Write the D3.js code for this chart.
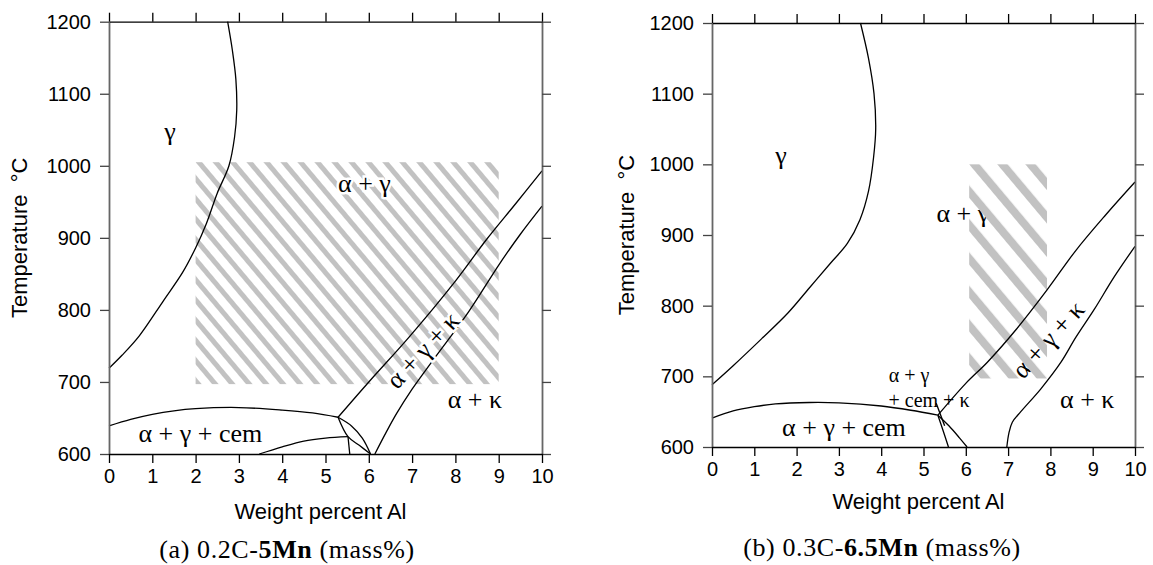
<!DOCTYPE html>
<html><head><meta charset="utf-8">
<script src="https://cdn.jsdelivr.net/npm/d3@7"></script>
<style>
body{margin:0;background:#fff}
svg{display:block}
.tick text{font-family:"Liberation Sans",Arial,sans-serif;font-size:20px;fill:#000}
.ttl{font-family:"Liberation Sans",Arial,sans-serif;font-size:22px;fill:#000;white-space:pre}
.lbl{font-family:"Liberation Serif","Times New Roman",serif;fill:#000}
.cap{font-family:"Liberation Serif","Times New Roman",serif;font-size:26px;letter-spacing:0.6px;fill:#000}
</style></head><body>
<svg id="chart" width="1153" height="565"></svg>
<script>
// ---------- data ----------
const xTicks = [0,1,2,3,4,5,6,7,8,9,10];
const yTicks = [600,700,800,900,1000,1100,1200];
const xTitle = "Weight percent Al";
const yTitle = "Temperature  \u00B0C";

// Panel (a) 0.2C-5Mn : phase boundaries [wt% Al, °C]
const aGammaBoundary = [[0,719],[0.3,737],[0.7,764],[1.26,813],[1.7,852],[2.0,886],[2.25,920],[2.5,962],[2.77,1000],[2.9,1040],[2.95,1077],[2.93,1120],[2.85,1160],[2.74,1200]];
const aCemUpper = [[0,639],[0.5,648],[1,655],[1.5,660],[2,663],[3,664.5],[4,661],[4.7,657],[5.29,651]];
const aCemInnerArc = [[3.47,600],[4,610],[4.5,618],[5,622],[5.52,624]];
const aCemInnerVert = [[5.52,624],[5.56,600]];
const aLensLeft = [[5.29,651],[5.52,624],[5.78,612],[6.04,600]];
const aLensRight = [[5.29,651],[5.6,639],[5.85,622],[6.04,600]];
const aAGKUpper = [[5.29,651],[6,700],[6.94,763],[8,840],[8.71,897],[9.4,948],[10,993]];
const aAGKLower = [[6.14,600],[6.4,630],[6.64,656],[7,690],[7.48,730],[8.3,797],[9.02,864],[9.5,905],[10,944]];
const aHatch = {x:[2,9], t:[697,1005]};
const aLabels = [
  {text:"\u03B3", x:1.41, t:1048, size:26, rot:0},
  {text:"\u03B1 + \u03B3", x:5.9, t:975, size:26, rot:0},
  {text:"\u03B1 + \u03B3 + \u03BA", x:7.25, t:744, size:26, rot:-47},
  {text:"\u03B1 + \u03BA", x:8.45, t:676, size:26, rot:0},
  {text:"\u03B1 + \u03B3 + cem", x:2.11, t:628, size:26, rot:0}
];

// Panel (b) 0.3C-6.5Mn
const bGammaBoundary = [[0,688],[0.5,715],[1.17,753],[1.8,790],[2.3,825],[2.8,860],[3.2,888],[3.5,922],[3.7,962],[3.82,1010],[3.87,1050],[3.83,1100],[3.7,1150],[3.51,1200]];
const bCemUpper = [[0,641],[0.5,651],[1,657],[1.5,661],[2.3,663],[3,662.5],[4,658],[4.7,652],[5.34,645]];
const bCemLeft = [[5.34,645],[5.47,622],[5.59,600]];
const bCemRight = [[5.34,645],[5.6,630],[5.85,613],[6.03,600]];
const bPointer = [[5.3,662],[5.5,630]];
const bAGKUpper = [[5.34,645],[6,690],[6.51,720],[7.2,767],[7.93,823],[8.6,878],[9.3,928],[10,975]];
const bAGKLower = [[6.97,600],[7.02,620],[7.1,635],[7.3,650],[7.77,682],[8.25,720],[8.6,755],[9.04,795],[9.5,840],[10,884]];
const bHatch = {x:[6.08,7.92], t:[697,1000]};
const bLabels = [
  {text:"\u03B3", x:1.63, t:1013, size:26, rot:0},
  {text:"\u03B1 + \u03B3", x:5.93, t:931, size:26, rot:0},
  {text:"\u03B1 + \u03B3 + \u03BA", x:7.95, t:752, size:26, rot:-48},
  {text:"\u03B1 + \u03B3", x:4.66, t:702, size:20, rot:0},
  {text:"+ cem + \u03BA", x:5.13, t:667, size:20, rot:0},
  {text:"\u03B1 + \u03B3 + cem", x:3.12, t:627, size:26, rot:0},
  {text:"\u03B1 + \u03BA", x:8.87, t:667, size:26, rot:0}
];

// ---------- drawing ----------
const svg = d3.select("#chart");
const defs = svg.append("defs");

function drawPanel(cfg){
  const x = d3.scaleLinear().domain([0,10]).range([cfg.left, cfg.right]);
  const y = d3.scaleLinear().domain([600,1200]).range([cfg.bottom, cfg.top]);
  const g = svg.append("g");

  // hatch
  const hx0 = x(cfg.hatch.x[0]), hx1 = x(cfg.hatch.x[1]);
  const hy0 = y(cfg.hatch.t[1]), hy1 = y(cfg.hatch.t[0]);
  const pid = cfg.id + "-hatch";
  defs.append("pattern").attr("id", pid)
    .attr("patternUnits","userSpaceOnUse")
    .attr("width", cfg.hatchSpace).attr("height", cfg.hatchSpace)
    .attr("patternTransform", `translate(${hx0},${hy0}) rotate(-40)`)
    .append("rect").attr("x",0).attr("y",0)
    .attr("width", cfg.hatchWidth).attr("height", cfg.hatchSpace)
    .attr("fill","#c2c2c2");

  const labelsG = g.append("g");
  const hatchG = g.append("g");
  hatchG.append("rect").attr("x",hx0).attr("y",hy0)
    .attr("width",hx1-hx0).attr("height",hy1-hy0)
    .attr("fill",`url(#${pid})`);

  labelsG.selectAll("text").data(cfg.labels).join("text")
    .attr("class","lbl")
    .attr("text-anchor","middle")
    .attr("dominant-baseline","central")
    .attr("font-size", d=>d.size)
    .attr("transform", d=>`translate(${x(d.x)},${y(d.t)}) rotate(${d.rot})`)
    .attr("stroke", cfg.labelsOnTop ? "#fff" : "none")
    .attr("stroke-width", cfg.labelsOnTop ? 5 : 0)
    .attr("paint-order","stroke")
    .text(d=>d.text);

  // curves
  const line = d3.line().x(d=>x(d[0])).y(d=>y(d[1])).curve(d3.curveCatmullRom.alpha(0.5));
  const straight = d3.line().x(d=>x(d[0])).y(d=>y(d[1]));
  const cg = g.append("g");
  cg.selectAll("path.c").data(cfg.curves).join("path")
    .attr("class","c")
    .attr("d", d=> d.length>2 ? line(d) : straight(d))
    .attr("fill","none").attr("stroke","#000").attr("stroke-width",1.3);
  if (cfg.labelsOnTop) labelsG.raise();

  // axes
  const ax = g.append("g");
  const left = ax.append("g").attr("transform",`translate(${cfg.left},0)`)
    .call(d3.axisLeft(y).tickValues(yTicks).tickSize(9).tickSizeOuter(0).tickPadding(9).tickFormat(d3.format("d")));
  const right = ax.append("g").attr("transform",`translate(${cfg.right},0)`)
    .call(d3.axisRight(y).tickValues(yTicks).tickSize(9).tickSizeOuter(0).tickFormat(""));
  const bottom = ax.append("g").attr("transform",`translate(0,${cfg.bottom})`)
    .call(d3.axisBottom(x).tickValues(xTicks).tickSize(9).tickSizeOuter(0).tickPadding(6).tickFormat(d3.format("d")));
  const top = ax.append("g").attr("transform",`translate(0,${cfg.top})`)
    .call(d3.axisTop(x).tickValues(xTicks).tickSize(9).tickSizeOuter(0).tickFormat(""));
  [left,right].forEach(a=>{
    a.select(".domain").attr("stroke","#666").attr("stroke-width",1.8);
    a.selectAll(".tick line").attr("stroke","#444").attr("stroke-width",1.3);
  });
  [bottom,top].forEach(a=>{
    a.select(".domain").attr("stroke","#000").attr("stroke-width",1.3);
    a.selectAll(".tick line").attr("stroke","#000").attr("stroke-width",1.3);
  });
  ax.selectAll(".tick text").attr("font-family",null).attr("font-size",null)
    .style("font-family","'Liberation Sans',Arial,sans-serif").style("font-size","20px").attr("fill","#000");

  // titles
  g.append("text").attr("class","ttl").attr("text-anchor","middle")
    .attr("dominant-baseline","central")
    .attr("transform",`translate(${cfg.yTitleX},${(cfg.top+cfg.bottom)/2}) rotate(-90)`)
    .text(yTitle);
  g.append("text").attr("class","ttl").attr("text-anchor","middle")
    .attr("dominant-baseline","central")
    .attr("x",(cfg.left+cfg.right)/2 + cfg.xTitleDx).attr("y",cfg.xTitleY)
    .text(xTitle);
  const cap = g.append("text").attr("class","cap").attr("text-anchor","middle")
    .attr("dominant-baseline","central")
    .attr("x",cfg.capX).attr("y",cfg.capY);
  cap.append("tspan").text(cfg.cap[0]);
  cap.append("tspan").attr("font-weight","bold").text(cfg.cap[1]);
  cap.append("tspan").text(cfg.cap[2]);
}

drawPanel({
  id:"a", left:109, right:542, top:21.7, bottom:454,
  hatch:aHatch, hatchSpace:13, hatchWidth:5, labelsOnTop:true,
  labels:aLabels,
  curves:[aGammaBoundary,aCemUpper,aCemInnerArc,aCemInnerVert,aLensLeft,aLensRight,aAGKUpper,aAGKLower],
  yTitleX:19, xTitleY:511, xTitleDx:-5, capX:287, capY:549,
  cap:["(a) 0.2C-","5Mn"," (mass%)"]
});
drawPanel({
  id:"b", left:712, right:1135, top:23, bottom:447,
  hatch:bHatch, hatchSpace:21.5, hatchWidth:8, labelsOnTop:false,
  labels:bLabels,
  curves:[bGammaBoundary,bCemUpper,bCemLeft,bCemRight,bPointer,bAGKUpper,bAGKLower],
  yTitleX:626, xTitleY:501, xTitleDx:-5, capX:882, capY:547,
  cap:["(b) 0.3C-","6.5Mn"," (mass%)"]
});
</script>
</body></html>
